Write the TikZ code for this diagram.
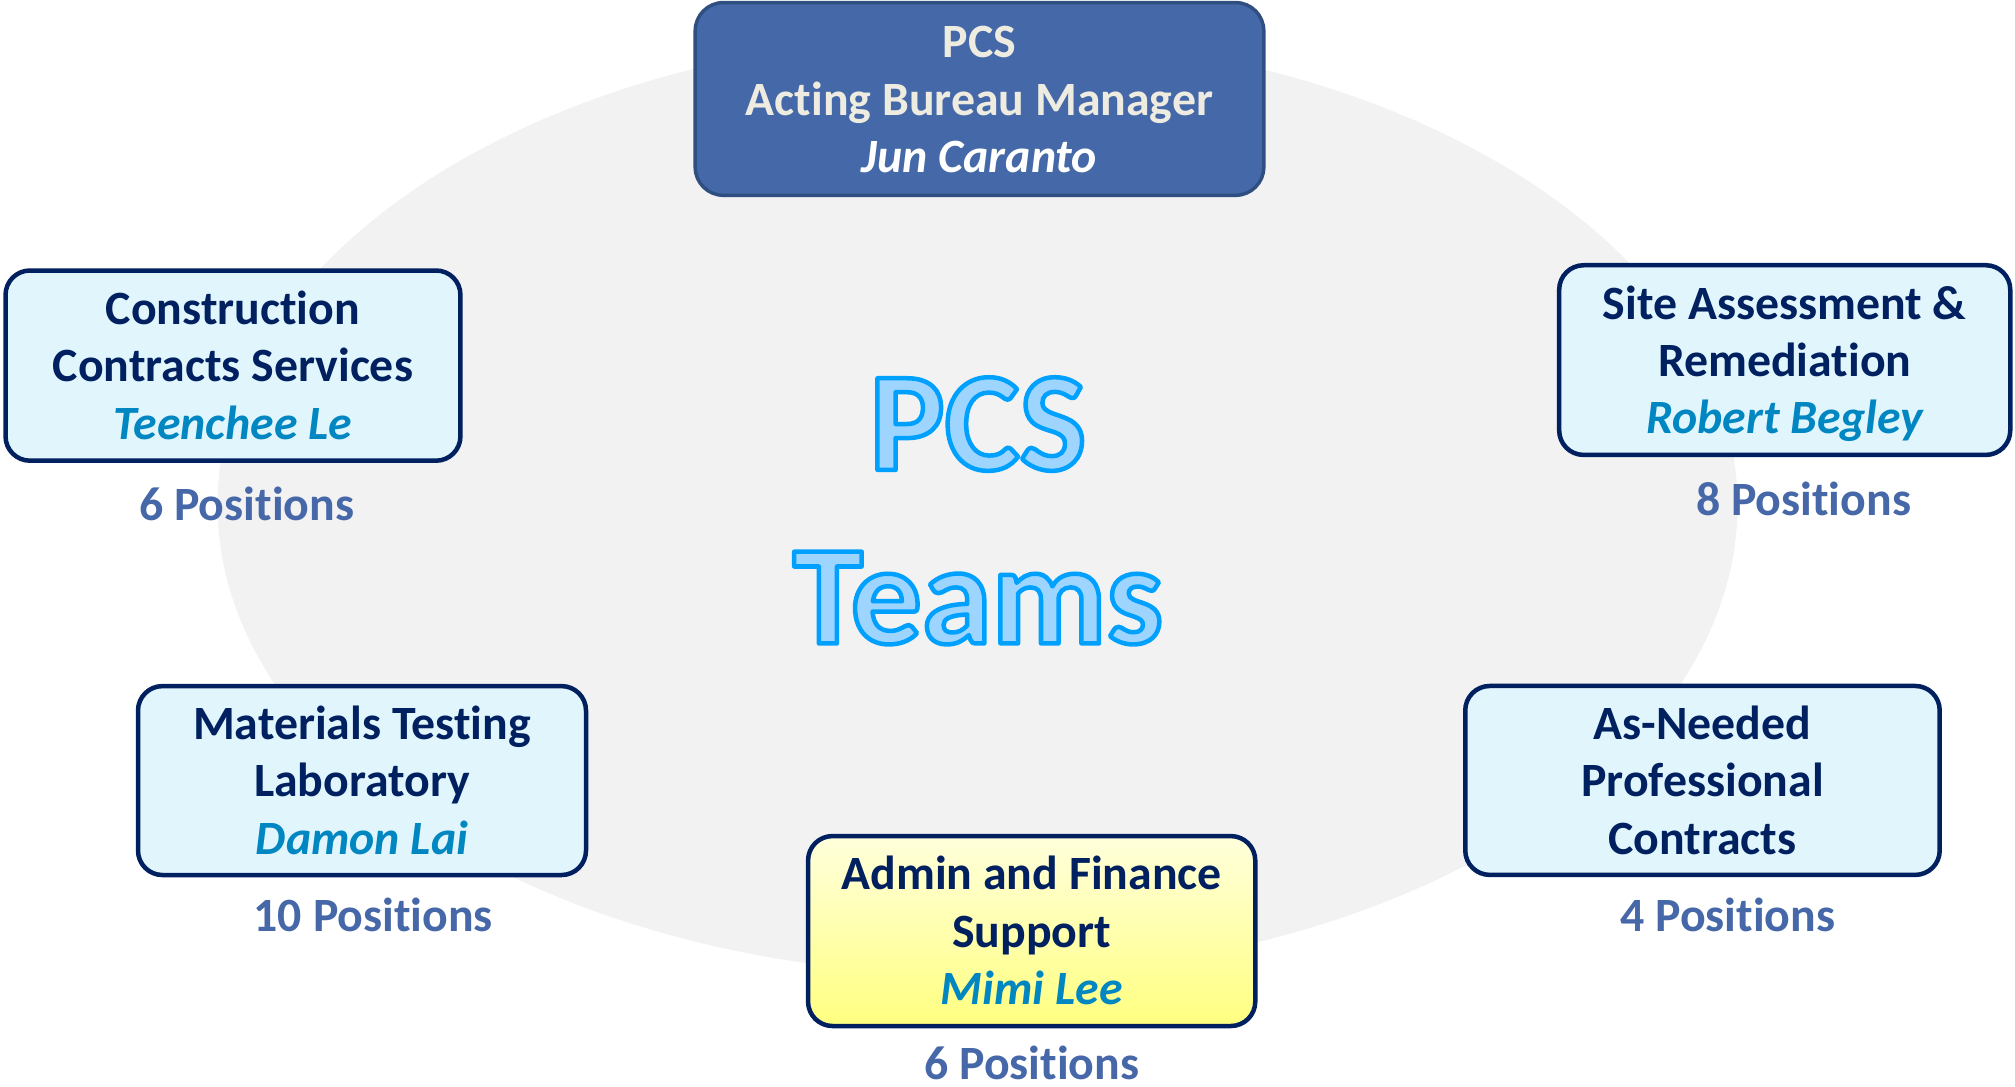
\documentclass[tikz,border=0pt]{standalone}
\usepackage{fontspec}
\setmainfont{Carlito}[RawFeature={-liga;-clig}]
\usetikzlibrary{shapes.geometric}
\definecolor{navy}{HTML}{002060}
\definecolor{boxfill}{HTML}{E1F5FD}
\definecolor{namecol}{HTML}{0086C0}
\definecolor{poscol}{HTML}{4668A8}
\definecolor{topfill}{HTML}{4569A8}
\definecolor{topdraw}{HTML}{2F4F80}
\definecolor{toptext}{HTML}{EEECE1}
\definecolor{ellfill}{HTML}{F2F2F2}
\definecolor{bigfill}{HTML}{9DD5FF}
\definecolor{yeltop}{HTML}{FFFFDC}
\definecolor{yelbot}{HTML}{FFFF80}
\newcommand{\outlined}[1]{\special{pdf:literal direct 0 0.627 1 RG 3.5 w 1 j 2 Tr}#1\special{pdf:literal direct 0 Tr}}
\newcommand{\firstl}[2][25.5pt]{\rule{0pt}{#1}\smash{#2}}
\newcommand{\lastl}[1]{\smash{#1}}
\begin{document}
\begin{tikzpicture}[x=1pt,y=-1pt,
  unitbox/.style={draw=navy, line width=3.5pt, rounded corners=19pt, fill=boxfill,
    align=center, inner sep=0pt, text=navy,
    font=\bfseries\fontsize{37.2}{44.7}\selectfont},
  poslabel/.style={anchor=base, text=poscol, inner sep=0pt,
    font=\bfseries\fontsize{37.2}{44}\selectfont}]
\path[use as bounding box] (0,0) rectangle (1568,845.1);
\node[ellipse, fill=ellfill, minimum width=1182.8pt, minimum height=731.6pt, inner sep=0pt] (bg) at (760.7,393) {};
% manager
\node[draw=topdraw, line width=2.7pt, rounded corners=22pt, fill=topfill,
  minimum width=442.5pt, minimum height=150pt, align=center, inner sep=0pt,
  text=toptext, font=\bfseries\fontsize{37.2}{44.7}\selectfont]
  (mgr) at (762.2,77) {\firstl[25pt]{PCS}\\Acting Bureau Manager\\\lastl{\textcolor{white}{\itshape Jun Caranto}}};
% teams
\node[unitbox, minimum width=354pt, minimum height=148pt] (ccs) at (181.3,284.5)
  {\firstl{Construction}\\Contracts Services\\\lastl{\textcolor{namecol}{\itshape Teenchee Le}}};
\node[unitbox, minimum width=351pt, minimum height=147.6pt] (sar) at (1388.8,280.2)
  {\firstl{Site Assessment \&}\\Remediation\\\lastl{\textcolor{namecol}{\itshape Robert Begley}}};
\node[unitbox, minimum width=348.6pt, minimum height=147pt] (mtl) at (281.7,607.4)
  {\firstl{Materials Testing}\\Laboratory\\\lastl{\textcolor{namecol}{\itshape Damon Lai}}};
\node[unitbox, minimum width=369.2pt, minimum height=147pt] (anp) at (1324.8,607.3)
  {\firstl{As-Needed}\\Professional\\\lastl{Contracts}};
\node[unitbox, top color=yeltop, bottom color=yelbot, minimum width=348pt, minimum height=147.8pt] (afs) at (802.8,724.5)
  {\firstl{Admin and Finance}\\Support\\\lastl{\textcolor{namecol}{\itshape Mimi Lee}}};
% position counts
\node[poslabel] (pccs) at (192,404.7) {6 Positions};
\node[poslabel] (psar) at (1403.4,401.5) {8 Positions};
\node[poslabel] (pmtl) at (290.5,724.5) {10 Positions};
\node[poslabel] (panp) at (1344.5,725) {4 Positions};
\node[poslabel] (pafs) at (802.9,840) {6 Positions};
% big title
\node[align=center, inner sep=0pt, text=bigfill,
  font=\bfseries\fontsize{110}{135}\selectfont] (title) at (761,397.5)
  {\outlined{PCS}\\\outlined{Teams}};
\end{tikzpicture}
\end{document}
